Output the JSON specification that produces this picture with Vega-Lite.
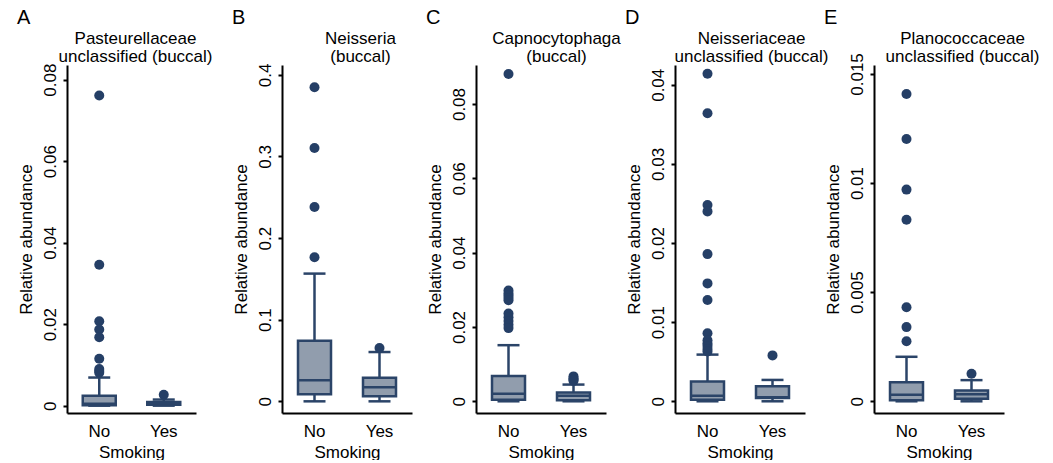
{
  "$schema": "https://vega.github.io/schema/vega-lite/v6.json",
  "padding": {"left": 17, "top": 8, "right": 5, "bottom": 0},
  "background": "white",
  "data": {"values": [
    {"panel": "A", "group": "No", "kind": "box", "lo": 0, "q1": 0.0001, "med": 0.0005, "q3": 0.00245, "hi": 0.0069},
    {"panel": "A", "group": "Yes", "kind": "box", "lo": 0, "q1": 0.0002, "med": 0.0005, "q3": 0.0009, "hi": 0.0015},
    {"panel": "A", "group": "No", "kind": "out", "value": 0.0761},
    {"panel": "A", "group": "No", "kind": "out", "value": 0.0346},
    {"panel": "A", "group": "No", "kind": "out", "value": 0.0207},
    {"panel": "A", "group": "No", "kind": "out", "value": 0.0187},
    {"panel": "A", "group": "No", "kind": "out", "value": 0.0168},
    {"panel": "A", "group": "No", "kind": "out", "value": 0.0115},
    {"panel": "A", "group": "No", "kind": "out", "value": 0.009},
    {"panel": "A", "group": "No", "kind": "out", "value": 0.0085},
    {"panel": "A", "group": "No", "kind": "out", "value": 0.0081},
    {"panel": "A", "group": "Yes", "kind": "out", "value": 0.0027},
    {"panel": "B", "group": "No", "kind": "box", "lo": 0, "q1": 0.0087, "med": 0.0259, "q3": 0.0742, "hi": 0.1565},
    {"panel": "B", "group": "Yes", "kind": "box", "lo": 0, "q1": 0.0061, "med": 0.0174, "q3": 0.029, "hi": 0.0604},
    {"panel": "B", "group": "No", "kind": "out", "value": 0.3848},
    {"panel": "B", "group": "No", "kind": "out", "value": 0.3104},
    {"panel": "B", "group": "No", "kind": "out", "value": 0.2381},
    {"panel": "B", "group": "No", "kind": "out", "value": 0.1765},
    {"panel": "B", "group": "Yes", "kind": "out", "value": 0.0653},
    {"panel": "C", "group": "No", "kind": "box", "lo": 0, "q1": 0.0004, "med": 0.002, "q3": 0.0068, "hi": 0.0151},
    {"panel": "C", "group": "Yes", "kind": "box", "lo": 0, "q1": 0.0003, "med": 0.0015, "q3": 0.0024, "hi": 0.0045},
    {"panel": "C", "group": "No", "kind": "out", "value": 0.0881},
    {"panel": "C", "group": "No", "kind": "out", "value": 0.0298},
    {"panel": "C", "group": "No", "kind": "out", "value": 0.029},
    {"panel": "C", "group": "No", "kind": "out", "value": 0.0284},
    {"panel": "C", "group": "No", "kind": "out", "value": 0.0278},
    {"panel": "C", "group": "No", "kind": "out", "value": 0.0272},
    {"panel": "C", "group": "No", "kind": "out", "value": 0.0236},
    {"panel": "C", "group": "No", "kind": "out", "value": 0.0226},
    {"panel": "C", "group": "No", "kind": "out", "value": 0.0216},
    {"panel": "C", "group": "No", "kind": "out", "value": 0.0206},
    {"panel": "C", "group": "No", "kind": "out", "value": 0.0197},
    {"panel": "C", "group": "Yes", "kind": "out", "value": 0.0067},
    {"panel": "C", "group": "Yes", "kind": "out", "value": 0.0062},
    {"panel": "C", "group": "Yes", "kind": "out", "value": 0.0058},
    {"panel": "C", "group": "Yes", "kind": "out", "value": 0.0055},
    {"panel": "D", "group": "No", "kind": "box", "lo": 0, "q1": 0.0002, "med": 0.0007, "q3": 0.0025, "hi": 0.0059},
    {"panel": "D", "group": "Yes", "kind": "box", "lo": 0, "q1": 0.0004, "med": 0.0005, "q3": 0.0019, "hi": 0.0027},
    {"panel": "D", "group": "No", "kind": "out", "value": 0.0414},
    {"panel": "D", "group": "No", "kind": "out", "value": 0.0364},
    {"panel": "D", "group": "No", "kind": "out", "value": 0.0248},
    {"panel": "D", "group": "No", "kind": "out", "value": 0.024},
    {"panel": "D", "group": "No", "kind": "out", "value": 0.0186},
    {"panel": "D", "group": "No", "kind": "out", "value": 0.0149},
    {"panel": "D", "group": "No", "kind": "out", "value": 0.0128},
    {"panel": "D", "group": "No", "kind": "out", "value": 0.0086},
    {"panel": "D", "group": "No", "kind": "out", "value": 0.0077},
    {"panel": "D", "group": "No", "kind": "out", "value": 0.0073},
    {"panel": "D", "group": "No", "kind": "out", "value": 0.007},
    {"panel": "D", "group": "No", "kind": "out", "value": 0.0066},
    {"panel": "D", "group": "No", "kind": "out", "value": 0.0063},
    {"panel": "D", "group": "Yes", "kind": "out", "value": 0.0058},
    {"panel": "E", "group": "No", "kind": "box", "lo": 0, "q1": 0.00005, "med": 0.0003, "q3": 0.00087, "hi": 0.00204},
    {"panel": "E", "group": "Yes", "kind": "box", "lo": 0, "q1": 0.00012, "med": 0.00032, "q3": 0.0005, "hi": 0.00097},
    {"panel": "E", "group": "No", "kind": "out", "value": 0.01408},
    {"panel": "E", "group": "No", "kind": "out", "value": 0.01202},
    {"panel": "E", "group": "No", "kind": "out", "value": 0.0097},
    {"panel": "E", "group": "No", "kind": "out", "value": 0.00832},
    {"panel": "E", "group": "No", "kind": "out", "value": 0.00431},
    {"panel": "E", "group": "No", "kind": "out", "value": 0.0034},
    {"panel": "E", "group": "No", "kind": "out", "value": 0.00275},
    {"panel": "E", "group": "Yes", "kind": "out", "value": 0.00126}
  ]},
  "hconcat": [
    {
      "width": 129, "height": 348,
      "title": {"text": "A"},
      "transform": [{"filter": "datum.panel === 'A'"}],
      "layer": [
        {
          "encoding": {"x": {"field": "group", "type": "nominal", "title": "Smoking", "scale": {"type": "band", "paddingInner": 0.1, "paddingOuter": 0.05}, "axis": {"orient": "bottom"}}},
          "layer": [
            {"transform": [{"filter": "datum.kind === 'box'"}], "mark": {"type": "rule", "color": "#2b4468", "strokeWidth": 2.5}, "encoding": {"y": {"field": "lo", "type": "quantitative", "title": "Relative abundance", "scale": {"domain": [-0.0018, 0.0836], "nice": false, "zero": false}, "axis": {"values": [0, 0.02, 0.04, 0.06, 0.08]}}, "y2": {"field": "hi"}}},
            {"transform": [{"filter": "datum.kind === 'box'"}], "mark": {"type": "bar", "size": 33, "fill": "#919dad", "stroke": "#2b4468", "strokeWidth": 2.5}, "encoding": {"y": {"field": "q1", "type": "quantitative", "title": "Relative abundance", "scale": {"domain": [-0.0018, 0.0836], "nice": false, "zero": false}}, "y2": {"field": "q3"}}},
            {"transform": [{"filter": "datum.kind === 'box'"}], "mark": {"type": "tick", "size": 33, "thickness": 2.5, "color": "#2b4468", "opacity": 1}, "encoding": {"y": {"field": "med", "type": "quantitative", "title": "Relative abundance", "scale": {"domain": [-0.0018, 0.0836], "nice": false, "zero": false}}}},
            {"transform": [{"filter": "datum.kind === 'box'"}], "mark": {"type": "tick", "size": 22, "thickness": 2.5, "color": "#2b4468", "opacity": 1}, "encoding": {"y": {"field": "hi", "type": "quantitative", "title": "Relative abundance", "scale": {"domain": [-0.0018, 0.0836], "nice": false, "zero": false}}}},
            {"transform": [{"filter": "datum.kind === 'box'"}], "mark": {"type": "tick", "size": 22, "thickness": 2.5, "color": "#2b4468", "opacity": 1}, "encoding": {"y": {"field": "lo", "type": "quantitative", "title": "Relative abundance", "scale": {"domain": [-0.0018, 0.0836], "nice": false, "zero": false}}}},
            {"transform": [{"filter": "datum.kind === 'out'"}], "mark": {"type": "point", "filled": true, "size": 100, "color": "#253f66", "opacity": 1}, "encoding": {"y": {"field": "value", "type": "quantitative", "title": "Relative abundance", "scale": {"domain": [-0.0018, 0.0836], "nice": false, "zero": false}}}}
          ]
        },
        {"transform": [{"filter": "datum.kind === 'box'"}], "mark": {"type": "point", "opacity": 0}, "encoding": {"x": {"field": "group", "type": "nominal", "axis": {"orient": "top", "title": ["Pasteurellaceae", "unclassified (buccal)"], "labels": false, "ticks": false, "domain": false, "titleX": 68}}}}
      ],
      "resolve": {"axis": {"x": "independent"}}
    },
    {
      "hconcat": [
        {
          "width": 130, "height": 348,
          "title": {"text": "B"},
          "transform": [{"filter": "datum.panel === 'B'"}],
          "layer": [
            {
              "encoding": {"x": {"field": "group", "type": "nominal", "title": "Smoking", "scale": {"type": "band", "paddingInner": 0.1, "paddingOuter": 0.05}, "axis": {"orient": "bottom"}}},
              "layer": [
                {"transform": [{"filter": "datum.kind === 'box'"}], "mark": {"type": "rule", "color": "#2b4468", "strokeWidth": 2.5}, "encoding": {"y": {"field": "lo", "type": "quantitative", "title": "Relative abundance", "scale": {"domain": [-0.0143, 0.4121], "nice": false, "zero": false}, "axis": {"values": [0, 0.1, 0.2, 0.3, 0.4]}}, "y2": {"field": "hi"}}},
                {"transform": [{"filter": "datum.kind === 'box'"}], "mark": {"type": "bar", "size": 33, "fill": "#919dad", "stroke": "#2b4468", "strokeWidth": 2.5}, "encoding": {"y": {"field": "q1", "type": "quantitative", "title": "Relative abundance", "scale": {"domain": [-0.0143, 0.4121], "nice": false, "zero": false}}, "y2": {"field": "q3"}}},
                {"transform": [{"filter": "datum.kind === 'box'"}], "mark": {"type": "tick", "size": 33, "thickness": 2.5, "color": "#2b4468", "opacity": 1}, "encoding": {"y": {"field": "med", "type": "quantitative", "title": "Relative abundance", "scale": {"domain": [-0.0143, 0.4121], "nice": false, "zero": false}}}},
                {"transform": [{"filter": "datum.kind === 'box'"}], "mark": {"type": "tick", "size": 22, "thickness": 2.5, "color": "#2b4468", "opacity": 1}, "encoding": {"y": {"field": "hi", "type": "quantitative", "title": "Relative abundance", "scale": {"domain": [-0.0143, 0.4121], "nice": false, "zero": false}}}},
                {"transform": [{"filter": "datum.kind === 'box'"}], "mark": {"type": "tick", "size": 22, "thickness": 2.5, "color": "#2b4468", "opacity": 1}, "encoding": {"y": {"field": "lo", "type": "quantitative", "title": "Relative abundance", "scale": {"domain": [-0.0143, 0.4121], "nice": false, "zero": false}}}},
                {"transform": [{"filter": "datum.kind === 'out'"}], "mark": {"type": "point", "filled": true, "size": 100, "color": "#253f66", "opacity": 1}, "encoding": {"y": {"field": "value", "type": "quantitative", "title": "Relative abundance", "scale": {"domain": [-0.0143, 0.4121], "nice": false, "zero": false}}}}
              ]
            },
            {"transform": [{"filter": "datum.kind === 'box'"}], "mark": {"type": "point", "opacity": 0}, "encoding": {"x": {"field": "group", "type": "nominal", "axis": {"orient": "top", "title": ["Neisseria", "(buccal)"], "labels": false, "ticks": false, "domain": false, "titleX": 78}}}}
          ],
          "resolve": {"axis": {"x": "independent"}}
        },
        {
          "hconcat": [
            {
              "width": 130, "height": 348,
              "title": {"text": "C"},
              "transform": [{"filter": "datum.panel === 'C'"}],
              "layer": [
                {
                  "encoding": {"x": {"field": "group", "type": "nominal", "title": "Smoking", "scale": {"type": "band", "paddingInner": 0.1, "paddingOuter": 0.05}, "axis": {"orient": "bottom"}}},
                  "layer": [
                    {"transform": [{"filter": "datum.kind === 'box'"}], "mark": {"type": "rule", "color": "#2b4468", "strokeWidth": 2.5}, "encoding": {"y": {"field": "lo", "type": "quantitative", "title": "Relative abundance", "scale": {"domain": [-0.00315, 0.0905], "nice": false, "zero": false}, "axis": {"values": [0, 0.02, 0.04, 0.06, 0.08]}}, "y2": {"field": "hi"}}},
                    {"transform": [{"filter": "datum.kind === 'box'"}], "mark": {"type": "bar", "size": 33, "fill": "#919dad", "stroke": "#2b4468", "strokeWidth": 2.5}, "encoding": {"y": {"field": "q1", "type": "quantitative", "title": "Relative abundance", "scale": {"domain": [-0.00315, 0.0905], "nice": false, "zero": false}}, "y2": {"field": "q3"}}},
                    {"transform": [{"filter": "datum.kind === 'box'"}], "mark": {"type": "tick", "size": 33, "thickness": 2.5, "color": "#2b4468", "opacity": 1}, "encoding": {"y": {"field": "med", "type": "quantitative", "title": "Relative abundance", "scale": {"domain": [-0.00315, 0.0905], "nice": false, "zero": false}}}},
                    {"transform": [{"filter": "datum.kind === 'box'"}], "mark": {"type": "tick", "size": 22, "thickness": 2.5, "color": "#2b4468", "opacity": 1}, "encoding": {"y": {"field": "hi", "type": "quantitative", "title": "Relative abundance", "scale": {"domain": [-0.00315, 0.0905], "nice": false, "zero": false}}}},
                    {"transform": [{"filter": "datum.kind === 'box'"}], "mark": {"type": "tick", "size": 22, "thickness": 2.5, "color": "#2b4468", "opacity": 1}, "encoding": {"y": {"field": "lo", "type": "quantitative", "title": "Relative abundance", "scale": {"domain": [-0.00315, 0.0905], "nice": false, "zero": false}}}},
                    {"transform": [{"filter": "datum.kind === 'out'"}], "mark": {"type": "point", "filled": true, "size": 100, "color": "#253f66", "opacity": 1}, "encoding": {"y": {"field": "value", "type": "quantitative", "title": "Relative abundance", "scale": {"domain": [-0.00315, 0.0905], "nice": false, "zero": false}}}}
                  ]
                },
                {"transform": [{"filter": "datum.kind === 'box'"}], "mark": {"type": "point", "opacity": 0}, "encoding": {"x": {"field": "group", "type": "nominal", "axis": {"orient": "top", "title": ["Capnocytophaga", "(buccal)"], "labels": false, "ticks": false, "domain": false, "titleX": 80}}}}
              ],
              "resolve": {"axis": {"x": "independent"}}
            },
            {
              "width": 130, "height": 348,
              "title": {"text": "D"},
              "transform": [{"filter": "datum.panel === 'D'"}],
              "layer": [
                {
                  "encoding": {"x": {"field": "group", "type": "nominal", "title": "Smoking", "scale": {"type": "band", "paddingInner": 0.1, "paddingOuter": 0.05}, "axis": {"orient": "bottom"}}},
                  "layer": [
                    {"transform": [{"filter": "datum.kind === 'box'"}], "mark": {"type": "rule", "color": "#2b4468", "strokeWidth": 2.5}, "encoding": {"y": {"field": "lo", "type": "quantitative", "title": "Relative abundance", "scale": {"domain": [-0.00148, 0.0425], "nice": false, "zero": false}, "axis": {"values": [0, 0.01, 0.02, 0.03, 0.04]}}, "y2": {"field": "hi"}}},
                    {"transform": [{"filter": "datum.kind === 'box'"}], "mark": {"type": "bar", "size": 33, "fill": "#919dad", "stroke": "#2b4468", "strokeWidth": 2.5}, "encoding": {"y": {"field": "q1", "type": "quantitative", "title": "Relative abundance", "scale": {"domain": [-0.00148, 0.0425], "nice": false, "zero": false}}, "y2": {"field": "q3"}}},
                    {"transform": [{"filter": "datum.kind === 'box'"}], "mark": {"type": "tick", "size": 33, "thickness": 2.5, "color": "#2b4468", "opacity": 1}, "encoding": {"y": {"field": "med", "type": "quantitative", "title": "Relative abundance", "scale": {"domain": [-0.00148, 0.0425], "nice": false, "zero": false}}}},
                    {"transform": [{"filter": "datum.kind === 'box'"}], "mark": {"type": "tick", "size": 22, "thickness": 2.5, "color": "#2b4468", "opacity": 1}, "encoding": {"y": {"field": "hi", "type": "quantitative", "title": "Relative abundance", "scale": {"domain": [-0.00148, 0.0425], "nice": false, "zero": false}}}},
                    {"transform": [{"filter": "datum.kind === 'box'"}], "mark": {"type": "tick", "size": 22, "thickness": 2.5, "color": "#2b4468", "opacity": 1}, "encoding": {"y": {"field": "lo", "type": "quantitative", "title": "Relative abundance", "scale": {"domain": [-0.00148, 0.0425], "nice": false, "zero": false}}}},
                    {"transform": [{"filter": "datum.kind === 'out'"}], "mark": {"type": "point", "filled": true, "size": 100, "color": "#253f66", "opacity": 1}, "encoding": {"y": {"field": "value", "type": "quantitative", "title": "Relative abundance", "scale": {"domain": [-0.00148, 0.0425], "nice": false, "zero": false}}}}
                  ]
                },
                {"transform": [{"filter": "datum.kind === 'box'"}], "mark": {"type": "point", "opacity": 0}, "encoding": {"x": {"field": "group", "type": "nominal", "axis": {"orient": "top", "title": ["Neisseriaceae", "unclassified (buccal)"], "labels": false, "ticks": false, "domain": false, "titleX": 76}}}}
              ],
              "resolve": {"axis": {"x": "independent"}}
            },
            {
              "width": 130, "height": 348,
              "title": {"text": "E"},
              "transform": [{"filter": "datum.panel === 'E'"}],
              "layer": [
                {
                  "encoding": {"x": {"field": "group", "type": "nominal", "title": "Smoking", "scale": {"type": "band", "paddingInner": 0.1, "paddingOuter": 0.05}, "axis": {"orient": "bottom"}}},
                  "layer": [
                    {"transform": [{"filter": "datum.kind === 'box'"}], "mark": {"type": "rule", "color": "#2b4468", "strokeWidth": 2.5}, "encoding": {"y": {"field": "lo", "type": "quantitative", "title": "Relative abundance", "scale": {"domain": [-0.000536, 0.01541], "nice": false, "zero": false}, "axis": {"values": [0, 0.005, 0.01, 0.015]}}, "y2": {"field": "hi"}}},
                    {"transform": [{"filter": "datum.kind === 'box'"}], "mark": {"type": "bar", "size": 33, "fill": "#919dad", "stroke": "#2b4468", "strokeWidth": 2.5}, "encoding": {"y": {"field": "q1", "type": "quantitative", "title": "Relative abundance", "scale": {"domain": [-0.000536, 0.01541], "nice": false, "zero": false}}, "y2": {"field": "q3"}}},
                    {"transform": [{"filter": "datum.kind === 'box'"}], "mark": {"type": "tick", "size": 33, "thickness": 2.5, "color": "#2b4468", "opacity": 1}, "encoding": {"y": {"field": "med", "type": "quantitative", "title": "Relative abundance", "scale": {"domain": [-0.000536, 0.01541], "nice": false, "zero": false}}}},
                    {"transform": [{"filter": "datum.kind === 'box'"}], "mark": {"type": "tick", "size": 22, "thickness": 2.5, "color": "#2b4468", "opacity": 1}, "encoding": {"y": {"field": "hi", "type": "quantitative", "title": "Relative abundance", "scale": {"domain": [-0.000536, 0.01541], "nice": false, "zero": false}}}},
                    {"transform": [{"filter": "datum.kind === 'box'"}], "mark": {"type": "tick", "size": 22, "thickness": 2.5, "color": "#2b4468", "opacity": 1}, "encoding": {"y": {"field": "lo", "type": "quantitative", "title": "Relative abundance", "scale": {"domain": [-0.000536, 0.01541], "nice": false, "zero": false}}}},
                    {"transform": [{"filter": "datum.kind === 'out'"}], "mark": {"type": "point", "filled": true, "size": 100, "color": "#253f66", "opacity": 1}, "encoding": {"y": {"field": "value", "type": "quantitative", "title": "Relative abundance", "scale": {"domain": [-0.000536, 0.01541], "nice": false, "zero": false}}}}
                  ]
                },
                {"transform": [{"filter": "datum.kind === 'box'"}], "mark": {"type": "point", "opacity": 0}, "encoding": {"x": {"field": "group", "type": "nominal", "axis": {"orient": "top", "title": ["Planococcaceae", "unclassified (buccal)"], "labels": false, "ticks": false, "domain": false, "titleX": 88}}}}
              ],
              "resolve": {"axis": {"x": "independent"}}
            }
          ],
          "spacing": 69,
          "bounds": "flush"
        }
      ],
      "spacing": 64,
      "bounds": "flush"
    }
  ],
  "spacing": 86,
  "bounds": "flush",
  "config": {
    "font": "Liberation Sans",
    "view": {"stroke": null},
    "title": {"anchor": "start", "frame": "bounds", "fontSize": 20, "fontWeight": "normal", "font": "Liberation Sans", "color": "#000000", "offset": 1},
    "axis": {"grid": false, "domainColor": "#000000", "domainWidth": 2, "tickColor": "#000000", "tickWidth": 2, "tickSize": 4, "labelFont": "Liberation Sans", "labelFontSize": 17, "labelColor": "#000000", "titleFont": "Liberation Sans", "titleFontSize": 17, "titleFontWeight": "normal", "titleColor": "#000000", "titleLineHeight": 18, "labelExpr": "format(datum.value, '~g')"},
    "axisX": {"ticks": false, "tickSize": 0, "labelAngle": 0, "labelPadding": 10, "titlePadding": 5, "labelExpr": "datum.label"},
    "axisY": {"labelAngle": -90, "labelAlign": "center", "labelBaseline": "bottom", "labelPadding": 4, "titlePadding": 6},
    "axisTop": {"titlePadding": 0}
  }
}
